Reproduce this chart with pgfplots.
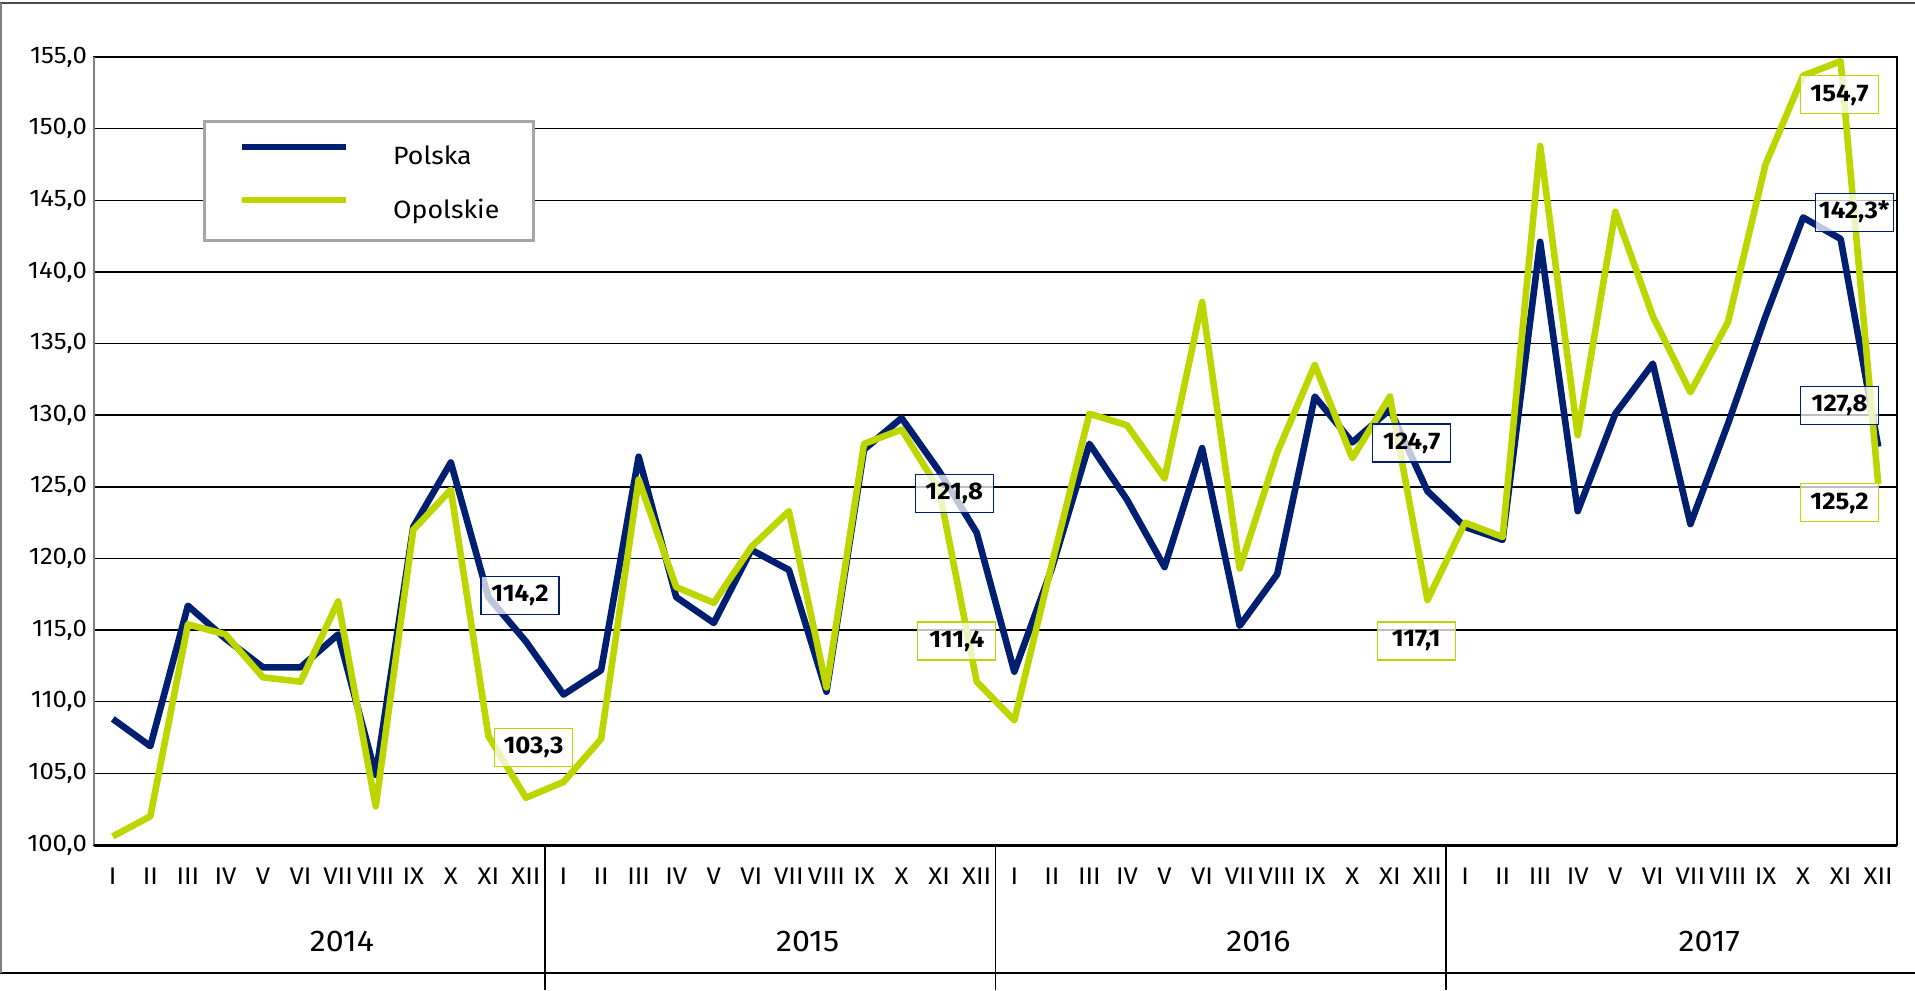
\documentclass[border=0pt]{standalone}
\usepackage{pgfplots}
\pgfplotsset{compat=1.18}
\usepackage{fontspec}
\setmainfont{Fira Sans}[FakeStretch=1.07]
\definecolor{pol}{RGB}{0,31,112}
\definecolor{opo}{RGB}{190,214,0}
\begin{document}
\begin{tikzpicture}
\useasboundingbox (-47pt,-72.5pt) rectangle (910.5pt,422.5pt);
\begin{axis}[
  scale only axis, width=901.5pt, height=394pt,
  xmin=-0.5, xmax=47.5, ymin=100, ymax=155,
  ytick={100,105,...,155},
  xtick={0,...,47},
  xticklabels={I,II,III,IV,V,VI,VII,VIII,IX,X,XI,XII,I,II,III,IV,V,VI,VII,VIII,IX,X,XI,XII,I,II,III,IV,V,VI,VII,VIII,IX,X,XI,XII,I,II,III,IV,V,VI,VII,VIII,IX,X,XI,XII},
  ymajorgrids, major grid style={black, line width=0.7pt},
  major tick length=0pt,
  axis line style={black, line width=0.8pt},
  tick label style={font=\fontsize{12}{14}\selectfont},
  yticklabel style={/pgf/number format/.cd, fixed, fixed zerofill, precision=1, use comma, assume math mode=true},
  xticklabel style={anchor=base, yshift=-19.5pt},
  clip=false,
  legend style={at={(0.0605,0.92)}, anchor=north west, draw=black!35, line width=1.5pt, fill=white,
    inner xsep=17pt, inner ysep=11pt, row sep=16pt, nodes={inner sep=0pt, text depth=0pt},
    font=\fontsize{12.5}{15}\selectfont},
  legend cell align=left,
  legend image code/.code={\draw[#1] (-1.5pt,4.3pt) -- (50.5pt,4.3pt);},
]
\addplot[pol, line width=3.3pt, line join=round] coordinates {
(0,108.8)(1,106.9)(2,116.7)(3,114.4)(4,112.4)(5,112.4)(6,114.7)(7,104.9)(8,122.2)(9,126.7)(10,117.3)(11,114.2)
(12,110.5)(13,112.2)(14,127.1)(15,117.3)(16,115.5)(17,120.6)(18,119.2)(19,110.7)(20,127.6)(21,129.8)(22,126.1)(23,121.8)
(24,112.1)(25,119.3)(26,128.0)(27,124.1)(28,119.4)(29,127.7)(30,115.3)(31,118.9)(32,131.3)(33,128.1)(34,130.4)(35,124.7)
(36,122.2)(37,121.3)(38,142.1)(39,123.3)(40,130.1)(41,133.6)(42,122.4)(43,129.4)(44,136.9)(45,143.8)(46,142.3)(47,127.8)
};
\addlegendentry{\hspace*{22pt}Polska}
\addplot[opo, line width=3.3pt, line join=round] coordinates {
(0,100.6)(1,102.0)(2,115.4)(3,114.7)(4,111.7)(5,111.4)(6,117.0)(7,102.7)(8,122.0)(9,124.8)(10,107.6)(11,103.3)
(12,104.4)(13,107.4)(14,125.5)(15,118.0)(16,116.9)(17,120.8)(18,123.3)(19,111.0)(20,128.0)(21,129.0)(22,124.8)(23,111.4)
(24,108.7)(25,119.6)(26,130.1)(27,129.3)(28,125.6)(29,137.9)(30,119.3)(31,127.4)(32,133.5)(33,127.0)(34,131.3)(35,117.1)
(36,122.5)(37,121.5)(38,148.8)(39,128.6)(40,144.2)(41,136.9)(42,131.6)(43,136.5)(44,147.5)(45,153.7)(46,154.7)(47,125.2)
};
\addlegendentry{\hspace*{22pt}Opolskie}
% axis frame details
\draw[black!50, line width=1.3pt] (rel axis cs:0,0) -- (rel axis cs:0,1);
\draw[black, line width=1.5pt] (rel axis cs:0,0) -- (rel axis cs:1,0);
% year separators
\draw[black, line width=0.8pt] (axis cs:11.5,100) -- ([yshift=-72.5pt]axis cs:11.5,100);
\draw[black, line width=0.8pt] (axis cs:23.5,100) -- ([yshift=-72.5pt]axis cs:23.5,100);
\draw[black, line width=0.8pt] (axis cs:35.5,100) -- ([yshift=-72.5pt]axis cs:35.5,100);
% year labels
\node[anchor=base, font=\fontsize{15}{18}\selectfont] at ([yshift=-53pt]axis cs:6.1,100) {2014};
\node[anchor=base, font=\fontsize{15}{18}\selectfont] at ([yshift=-53pt]axis cs:18.5,100) {2015};
\node[anchor=base, font=\fontsize{15}{18}\selectfont] at ([yshift=-53pt]axis cs:30.5,100) {2016};
\node[anchor=base, font=\fontsize{15}{18}\selectfont] at ([yshift=-53pt]axis cs:42.5,100) {2017};
% data labels
\tikzset{lbl/.style={draw=#1, fill=white, fill opacity=0.75, text opacity=1, font=\bfseries\fontsize{12}{14}\selectfont, minimum width=39pt, minimum height=19pt, inner sep=1pt, line width=0.6pt}}
\node[lbl=pol] at (axis cs:10.84,117.4) {114,2};
\node[lbl=opo] at (axis cs:11.2,106.8) {103,3};
\node[lbl=pol] at (axis cs:22.4,124.56) {121,8};
\node[lbl=opo] at (axis cs:22.47,114.24) {111,4};
\node[lbl=pol] at (axis cs:34.58,128.06) {124,7};
\node[lbl=opo] at (axis cs:34.7,114.24) {117,1};
\node[lbl=opo] at (axis cs:45.97,152.36) {154,7};
\node[lbl=pol] at (axis cs:46.36,144.17) {142,3*};
\node[lbl=pol] at (axis cs:45.97,130.7) {127,8};
\node[lbl=opo] at (axis cs:45.97,123.88) {125,2};
\end{axis}
% outer frame
\draw[black!70, line width=0.8pt] (-47pt,421pt) -- (910.5pt,421pt);
\draw[black, line width=0.8pt] (-47pt,-64pt) -- (910.5pt,-64pt);
\draw[black!50, line width=0.8pt] (-46.5pt,421pt) -- (-46.5pt,-64pt);
\end{tikzpicture}
\end{document}
